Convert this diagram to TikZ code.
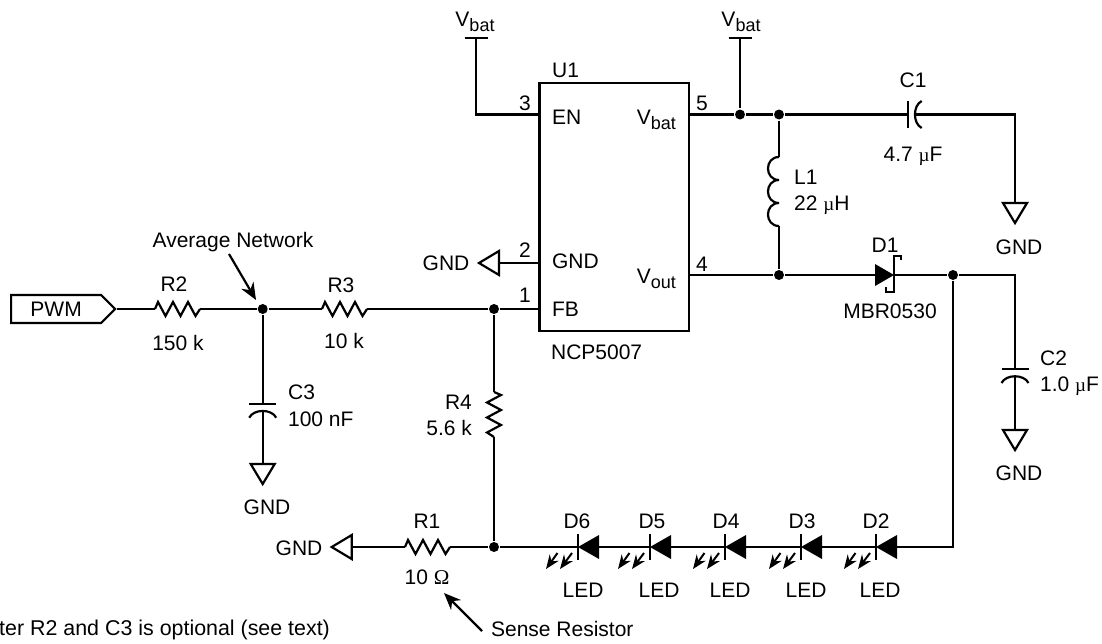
\documentclass[tikz,border=0pt]{standalone}
\usepackage{fontspec}
\setmainfont{Liberation Sans}
\newfontfamily\symbolfont{Liberation Serif}
\usetikzlibrary{arrows.meta,shapes.symbols}
\newcommand{\lowtext}[1]{V\raisebox{-5pt}{\fontsize{18}{18}\selectfont #1}}
\newcommand{\micro}{{\symbolfont\fontsize{19}{19}\selectfont µ}}
\tikzset{
  pics/resistor/.style={code={
    \coordinate (-a) at (0,0);
    \coordinate (-b) at (45,0);
    \draw (0,0) -- (3,-7) -- (10.5,7) -- (18,-7) -- (25.5,7) -- (33,-7) -- (40.5,7) -- (45,0);
  }},
  pics/capacitor/.style={code={
    \coordinate (-a) at (0,0);
    \coordinate (-b) at (7,0);
    \draw (0,-13.5) -- (0,13.5);
    \draw (14,-13.5) .. controls (5,-9) and (5,9) .. (14,13.5);
  }},
  pics/ground/.style={code={
    \coordinate (-a) at (0,0);
    \draw (0,-12) -- (0,12) -- (20,0) -- cycle;
  }},
  pics/inductor/.style={code={
    \coordinate (-a) at (0,0);
    \coordinate (-b) at (0,69);
    \draw (0,0) .. controls (-14.7,0) and (-14.7,23) .. (0,23)
      .. controls (-14.7,23) and (-14.7,46) .. (0,46)
      .. controls (-14.7,46) and (-14.7,69) .. (0,69);
  }},
  pics/schottky/.style={code={
    \coordinate (-a) at (0,0);
    \coordinate (-b) at (19,0);
    \fill (0,-11) -- (19,0) -- (0,11) -- cycle;
    \draw (26,-15) -- (26,-19) -- (19,-19) -- (19,17) -- (11,17) -- (11,12);
  }},
  pics/led/.style={code={
    \coordinate (-a) at (0,0);
    \coordinate (-b) at (21,0);
    \fill (0,0) -- (21,-12) -- (21,12) -- cycle;
    \draw (0,-13) -- (0,13);
    \draw[ray] (-6,6) -- (-18,22);
    \draw[ray] (-20.5,6) -- (-32,22);
  }}
}
\begin{document}
\begin{tikzpicture}[x=1pt, y=-1pt, line width=2.2pt,
    every node/.style={font=\fontsize{21}{23}\selectfont, inner sep=0pt},
    dot/.style={circle, fill, minimum size=10pt},
    ray/.style={line width=2pt, -{Stealth[length=14pt, width=11pt]}},
    pointer/.style={-{Stealth[length=17pt, width=14pt]}}]
  \useasboundingbox (0,0) rectangle (1102,643);

  \node[draw, rectangle, minimum width=149.5pt, minimum height=248pt] (U1) at (614.25,207) {};
  \node[signal, signal to=east, draw, minimum width=104pt, minimum height=28pt, anchor=west] (PWM) at (10,309) {PWM\hspace{12pt}};

  \node[dot] (n1) at (262.7,309) {};
  \node[dot] (n2) at (494,309) {};
  \node[dot] (n3) at (740,114.5) {};
  \node[dot] (n4) at (779,114.5) {};
  \node[dot] (n5) at (779,275) {};
  \node[dot] (n6) at (953,275) {};
  \node[dot] (n7) at (494,547) {};

  \pic (R2) at (155,309) {resistor};
  \pic (R3) at (322,309) {resistor};
  \pic[rotate=-90] (R4) at (494,392) {resistor};
  \pic (R1) at (405,547) {resistor};
  \pic (C1) at (907.7,114.5) {capacitor};
  \pic[rotate=-90] (C2) at (1015,369) {capacitor};
  \pic[rotate=-90] (C3) at (262.7,403.7) {capacitor};
  \pic (L1) at (779,157) {inductor};
  \pic (D1) at (875,275) {schottky};
  \pic (D6) at (578,547) {led};
  \pic (D5) at (650,547) {led};
  \pic (D4) at (725,547) {led};
  \pic (D3) at (801,547) {led};
  \pic (D2) at (876,547) {led};

  \pic[rotate=-90] (G1) at (1015,203) {ground};
  \pic[rotate=-90] (G2) at (1015,430) {ground};
  \pic[rotate=-90] (G3) at (262.7,464) {ground};
  \pic[rotate=180] (G4) at (351.7,547) {ground};
  \pic[rotate=180] (G5) at (499,263) {ground};

  \coordinate (en) at (U1.west |- 0,114.5);
  \coordinate (gnd) at (U1.west |- 0,263);
  \coordinate (fb) at (U1.west |- 0,309);
  \coordinate (vbat) at (U1.east |- 0,114.5);
  \coordinate (vout) at (U1.east |- 0,275);
  \coordinate (top1) at (476,38);
  \coordinate (top2) at (740,38);
  \coordinate (c1end) at (1015,114.5);
  \coordinate (c2end) at (1015,275);
  \coordinate (ledend) at (953,547);
  \coordinate (avgtail) at (229,254);
  \coordinate (avgtip) at (256,300);
  \coordinate (sensetail) at (482,631);
  \coordinate (sensetip) at (444,593);

  \draw (PWM.east) -- (R2-a);
  \draw (R2-b) -- (n1);
  \draw (n1) -- (R3-a);
  \draw (R3-b) -- (n2);
  \draw (n2) -- (fb);
  \draw (n2) -- (R4-a);
  \draw (R4-b) -- (n7);
  \draw (n1) -- (C3-a);
  \draw (C3-b) -- (G3-a);
  \draw (top1) -- (476,114.5) -- (en);
  \draw (G5-a) -- (gnd);
  \draw (vbat) -- (n3);
  \draw (n3) -- (n4);
  \draw (top2) -- (n3);
  \draw (n4) -- (C1-a);
  \draw (C1-b) -- (c1end) -- (G1-a);
  \draw (n4) -- (L1-a);
  \draw (L1-b) -- (n5);
  \draw (vout) -- (n5);
  \draw (n5) -- (D1-a);
  \draw (D1-b) -- (n6);
  \draw (n6) -- (c2end) -- (C2-a);
  \draw (C2-b) -- (G2-a);
  \draw (n6) -- (ledend) -- (D2-b);
  \draw (D2-a) -- (D3-b);
  \draw (D3-a) -- (D4-b);
  \draw (D4-a) -- (D5-b);
  \draw (D5-a) -- (D6-b);
  \draw (D6-a) -- (n7);
  \draw (n7) -- (R1-b);
  \draw (R1-a) -- (G4-a);
  \draw (464.5,38) -- (487.5,38);
  \draw (728.5,38) -- (751.5,38);
  \draw[pointer] (avgtail) -- (avgtip);
  \draw[pointer] (sensetail) -- (sensetip);

  \node (t1) at (475,22) {\lowtext{bat}};
  \node (t2) at (741,22) {\lowtext{bat}};
  \node[anchor=west] (t3) at (551,70) {U1};
  \node (t4) at (525,103) {3};
  \node (t5) at (702,103) {5};
  \node (t6) at (525,250) {2};
  \node (t7) at (702,264) {4};
  \node (t8) at (525,295) {1};
  \node[anchor=west] (t9) at (551,117) {EN};
  \node[anchor=west] (t10) at (551,261) {GND};
  \node[anchor=west] (t11) at (551,309) {FB};
  \node[anchor=east] (t12) at (677,120) {\lowtext{bat}};
  \node[anchor=east] (t13) at (677,279) {\lowtext{out}};
  \node[anchor=west] (t14) at (550,352) {NCP5007};
  \node (t15) at (446,263) {GND};
  \node (t16) at (913,80) {C1};
  \node (t17) at (913,156) {4.7 \micro F};
  \node (t18) at (1019,247) {GND};
  \node[anchor=west] (t19) at (793,177) {L1};
  \node[anchor=west] (t20) at (793,205) {22 \micro H};
  \node (t21) at (885,245) {D1};
  \node (t22) at (890,311) {MBR0530};
  \node[anchor=west] (t23) at (1039,358) {C2};
  \node[anchor=west] (t24) at (1039,386) {1.0 \micro F};
  \node (t25) at (1019,473) {GND};
  \node (t26) at (174,284) {R2};
  \node (t27) at (178,343) {150 k};
  \node (t28) at (341,285) {R3};
  \node (t29) at (344,341) {10 k};
  \node (t30) at (233,242) {Average Network};
  \node[anchor=west] (t31) at (287,392) {C3};
  \node[anchor=west] (t32) at (287,419) {100 nF};
  \node (t33) at (267,507) {GND};
  \node (t34) at (299,548) {GND};
  \node[anchor=east] (t35) at (473,402) {R4};
  \node[anchor=east] (t36) at (473,428) {5.6 k};
  \node (t37) at (427,521) {R1};
  \node (t38) at (427,577) {10 {\symbolfont Ω}};
  \node[anchor=west] (t39) at (490,629) {Sense Resistor};
  \node[anchor=east, font=\fontsize{21.4}{23}\selectfont] (t40) at (331,630) {ter R2 and C3 is optional (see text)};
  \node (t41) at (577,521) {D6};
  \node (t42) at (652,521) {D5};
  \node (t43) at (726,521) {D4};
  \node (t44) at (802,521) {D3};
  \node (t45) at (876,521) {D2};
  \node (t46) at (583,590) {LED};
  \node (t47) at (659,590) {LED};
  \node (t48) at (730,590) {LED};
  \node (t49) at (806,590) {LED};
  \node (t50) at (880,590) {LED};
\end{tikzpicture}
\end{document}
